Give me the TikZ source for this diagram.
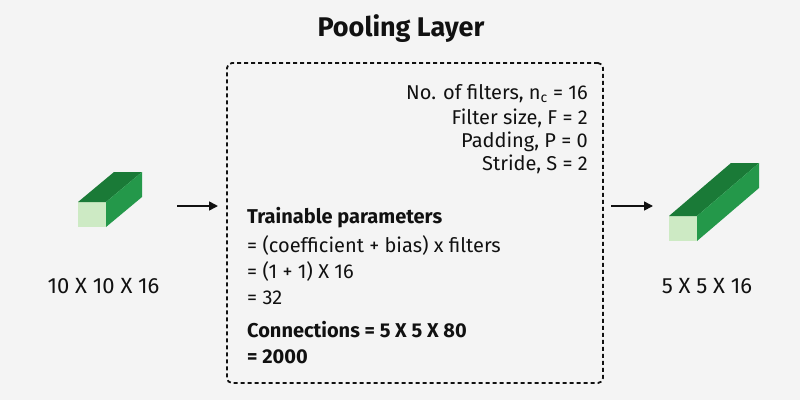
\documentclass[tikz,border=0pt]{standalone}
\usepackage{fontspec}
\setmainfont{Fira Sans}
\usepackage{xcolor}
\usepackage{tikz}
\usetikzlibrary{arrows.meta}
\definecolor{bg}{HTML}{F4F4F4}
\definecolor{ink}{HTML}{111111}
\definecolor{frontgreen}{HTML}{CDEAC4}
\definecolor{topgreen}{HTML}{1A7A37}
\definecolor{sidegreen}{HTML}{24984A}
\tikzstyle{arrow} = [line width=1.6pt,-{Triangle[length=9pt,width=9pt]},ink]
\tikzstyle{txt} = [inner sep=0pt,text=ink,font=\fontsize{20}{24}\selectfont]
\tikzstyle{poolbox} = [draw=ink,line width=1.8pt,dash pattern=on 4pt off 3pt,rounded corners=5pt]

\begin{document}
\begin{tikzpicture}[x=1pt,y=-1pt]
	\useasboundingbox (0,0) rectangle (800,400);
	\fill[bg] (0,0) rectangle (800,400);
	\begin{scope}
		
		% Title:
		\node[txt,font=\fontsize{27}{32}\selectfont\bfseries,anchor=base] (title) at (401,36) {Pooling Layer};
		
		% The layer box:
		\node[poolbox,minimum width=376pt,minimum height=320pt] (pool) at (415,223) {};
		
		% Cuboids (input and output volumes):
		% front square, top face and side face
		\foreach \cx/\cy/\dx/\dy in {78/202/36/30, 669/216/62/53}
		{
			\fill[frontgreen] (\cx,\cy) rectangle (\cx+28,\cy+25);
			\fill[topgreen] (\cx,\cy) -- (\cx+28,\cy) -- (\cx+28+\dx,\cy-\dy) -- (\cx+\dx,\cy-\dy) -- cycle;
			\fill[sidegreen] (\cx+28,\cy) -- (\cx+28+\dx,\cy-\dy) -- (\cx+28+\dx,\cy+25-\dy) -- (\cx+28,\cy+25) -- cycle;
		}
		
		% Sizes:
		\node[txt,anchor=base,font=\fontsize{22}{26}\selectfont] (insize) at (103.5,293) {10 X 10 X 16};
		\node[txt,anchor=base,font=\fontsize{22}{26}\selectfont] (outsize) at (707,293) {5 X 5 X 16};
		
		% Arrows:
		\coordinate (inA) at (177,206);
		\coordinate (inB) at (218,206);
		\coordinate (outA) at (611,206);
		\coordinate (outB) at (653,206);
		\draw[arrow] (inA) -- (inB);
		\draw[arrow] (outA) -- (outB);
		
		% Hyperparameters (right aligned):
		\node[txt,anchor=base east] (filters) at (588,99) {No. of filters, n\textsubscript{c} = 16};
		\node[txt,anchor=base east] (fsize) at (588,124) {Filter size, F = 2};
		\node[txt,anchor=base east] (padding) at (588,147) {Padding, P = 0};
		\node[txt,anchor=base east] (stride) at (588,170) {Stride, S = 2};
		
		% Parameters and connections:
		\node[txt,anchor=base west,font=\fontsize{20}{24}\selectfont\bfseries] (train) at (247,223) {Trainable parameters};
		\node[txt,anchor=base west] (trainA) at (247,252) {= (coefficient + bias) x filters};
		\node[txt,anchor=base west] (trainB) at (247,278) {= (1 + 1) X 16};
		\node[txt,anchor=base west] (trainC) at (247,304) {= 32};
		\node[txt,anchor=base west,font=\fontsize{20}{24}\selectfont\bfseries] (conn) at (247,337) {Connections = 5 X 5 X 80};
		\node[txt,anchor=base west,font=\fontsize{20}{24}\selectfont\bfseries] (connA) at (247,363) {= 2000};
		
	\end{scope}
\end{tikzpicture}
\end{document}
